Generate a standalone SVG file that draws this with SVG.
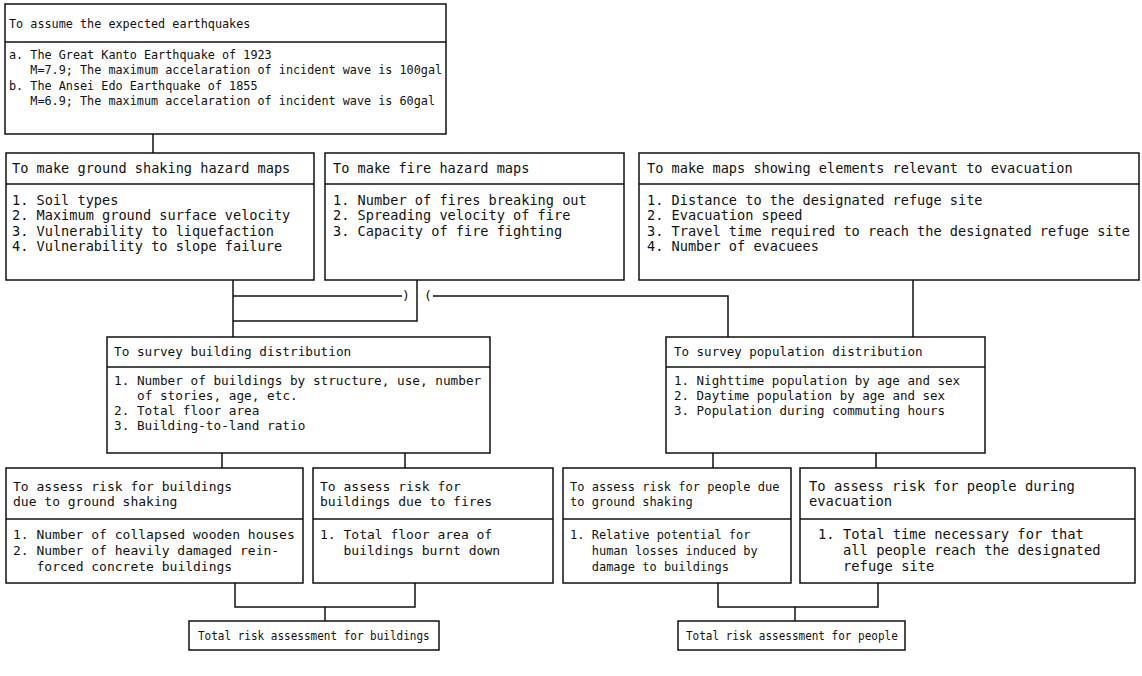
<svg xmlns="http://www.w3.org/2000/svg" width="1142" height="676" viewBox="0 0 1142 676">
<style>
.b{fill:#fff;stroke:#111;stroke-width:1.5}
.d{stroke:#111;stroke-width:1.5;fill:none}
.c{stroke:#111;stroke-width:1.5;fill:none}
text{font-family:"DejaVu Sans Mono","Liberation Mono",monospace;font-size:13px;fill:#111}
.s136 text{font-size:13.6px}
.s138 text{font-size:13.8px}
.n text{font-size:12.6px}
</style>
<rect width="1142" height="676" fill="#fff"/>
<g id="connectors">
<path class="c" d="M153 134V153"/>
<path class="c" d="M233 280V337M233 296H402M417 280V321H233"/>
<text x="402" y="300">)</text>
<text x="424" y="300">(</text>
<path class="c" d="M433 296H728V337M913 280V337"/>
<path class="c" d="M222 453V468M405 453V468M713 453V468M876 453V468"/>
<path class="c" d="M235 583V607H415V583M325 607V621"/>
<path class="c" d="M718 583V607H878V583M795 607V621"/>
</g>
<g id="n-earthquakes" class="n">
<rect class="b" x="5" y="4" width="441" height="130"/>
<path class="d" d="M5 42H446"/>
<text x="9" y="28" textLength="241.4" lengthAdjust="spacingAndGlyphs">To assume the expected earthquakes</text>
<text x="9" y="59" textLength="262.7" lengthAdjust="spacingAndGlyphs">a. The Great Kanto Earthquake of 1923</text>
<text x="30.3" y="74" textLength="411.8" lengthAdjust="spacingAndGlyphs">M=7.9; The maximum accelaration of incident wave is 100gal</text>
<text x="9" y="90" textLength="248.5" lengthAdjust="spacingAndGlyphs">b. The Ansei Edo Earthquake of 1855</text>
<text x="30.3" y="105" textLength="404.7" lengthAdjust="spacingAndGlyphs">M=6.9; The maximum accelaration of incident wave is 60gal</text>
</g>
<g id="n-ground-maps" class="s136">
<rect class="b" x="6" y="153" width="308" height="127"/>
<path class="d" d="M6 184H314"/>
<text x="12" y="173">To make ground shaking hazard maps</text>
<text x="12" y="205">1. Soil types</text>
<text x="12" y="220">2. Maximum ground surface velocity</text>
<text x="12" y="236">3. Vulnerability to liquefaction</text>
<text x="12" y="251">4. Vulnerability to slope failure</text>
</g>
<g id="n-fire-maps" class="s136">
<rect class="b" x="325" y="153" width="299" height="127"/>
<path class="d" d="M325 184H624"/>
<text x="333" y="173">To make fire hazard maps</text>
<text x="333" y="205">1. Number of fires breaking out</text>
<text x="333" y="220">2. Spreading velocity of fire</text>
<text x="333" y="236">3. Capacity of fire fighting</text>
</g>
<g id="n-evac-maps" class="s136">
<rect class="b" x="639" y="153" width="500" height="127"/>
<path class="d" d="M639 184H1139"/>
<text x="647" y="173">To make maps showing elements relevant to evacuation</text>
<text x="647" y="205">1. Distance to the designated refuge site</text>
<text x="647" y="220">2. Evacuation speed</text>
<text x="647" y="236">3. Travel time required to reach the designated refuge site</text>
<text x="647" y="251">4. Number of evacuees</text>
</g>
<g id="n-building-survey">
<rect class="b" x="107" y="337" width="383" height="116"/>
<path class="d" d="M107 367H490"/>
<text x="114" y="356" textLength="237.2" lengthAdjust="spacingAndGlyphs">To survey building distribution</text>
<text x="114" y="385" textLength="367.2" lengthAdjust="spacingAndGlyphs">1. Number of buildings by structure, use, number</text>
<text x="137" y="400" textLength="160.7" lengthAdjust="spacingAndGlyphs">of stories, age, etc.</text>
<text x="114" y="415" textLength="145.4" lengthAdjust="spacingAndGlyphs">2. Total floor area</text>
<text x="114" y="430" textLength="191.3" lengthAdjust="spacingAndGlyphs">3. Building-to-land ratio</text>
</g>
<g id="n-population-survey">
<rect class="b" x="666" y="337" width="319" height="116"/>
<path class="d" d="M666 367H985"/>
<text x="674" y="356" textLength="248.5" lengthAdjust="spacingAndGlyphs">To survey population distribution</text>
<text x="674" y="385" textLength="286.1" lengthAdjust="spacingAndGlyphs">1. Nighttime population by age and sex</text>
<text x="674" y="400" textLength="271.1" lengthAdjust="spacingAndGlyphs">2. Daytime population by age and sex</text>
<text x="674" y="415" textLength="271.1" lengthAdjust="spacingAndGlyphs">3. Population during commuting hours</text>
</g>
<g id="n-risk-bldg-shaking">
<rect class="b" x="6" y="468" width="297" height="115"/>
<path class="d" d="M6 519H303"/>
<text x="13" y="491">To assess risk for buildings</text>
<text x="13" y="506">due to ground shaking</text>
<text x="13" y="539">1. Number of collapsed wooden houses</text>
<text x="13" y="555">2. Number of heavily damaged  rein-</text>
<text x="36.5" y="571">forced concrete buildings</text>
</g>
<g id="n-risk-bldg-fire">
<rect class="b" x="313" y="468" width="240" height="115"/>
<path class="d" d="M313 519H553"/>
<text x="320" y="491">To assess risk for</text>
<text x="320" y="506">buildings due to fires</text>
<text x="320" y="539">1. Total floor area of</text>
<text x="343.5" y="555">buildings burnt down</text>
</g>
<g id="n-risk-people-shaking">
<rect class="b" x="563" y="468" width="228" height="115"/>
<path class="d" d="M563 519H791"/>
<text x="570" y="491" textLength="209.4" lengthAdjust="spacingAndGlyphs">To assess risk for people due</text>
<text x="570" y="506" textLength="122.7" lengthAdjust="spacingAndGlyphs">to ground shaking</text>
<text x="570" y="539" textLength="180.5" lengthAdjust="spacingAndGlyphs">1. Relative potential for</text>
<text x="591.7" y="555" textLength="166.1" lengthAdjust="spacingAndGlyphs">human losses induced by</text>
<text x="591.7" y="571" textLength="137.2" lengthAdjust="spacingAndGlyphs">damage to buildings</text>
</g>
<g id="n-risk-people-evac" class="s138">
<rect class="b" x="800" y="468" width="335" height="115"/>
<path class="d" d="M800 519H1135"/>
<text x="809" y="491">To assess risk for people during</text>
<text x="809" y="506">evacuation</text>
<text x="818" y="539">1. Total time necessary for that</text>
<text x="843" y="555">all people reach the designated</text>
<text x="843" y="571">refuge site</text>
</g>
<g id="n-total-buildings" class="n">
<rect class="b" x="189" y="621" width="250" height="29"/>
<text x="198" y="640" textLength="231.7" lengthAdjust="spacingAndGlyphs">Total risk assessment for buildings</text>
</g>
<g id="n-total-people" class="n">
<rect class="b" x="678" y="621" width="227" height="29"/>
<text x="686" y="640" textLength="211.8" lengthAdjust="spacingAndGlyphs">Total risk assessment for people</text>
</g>
</svg>
